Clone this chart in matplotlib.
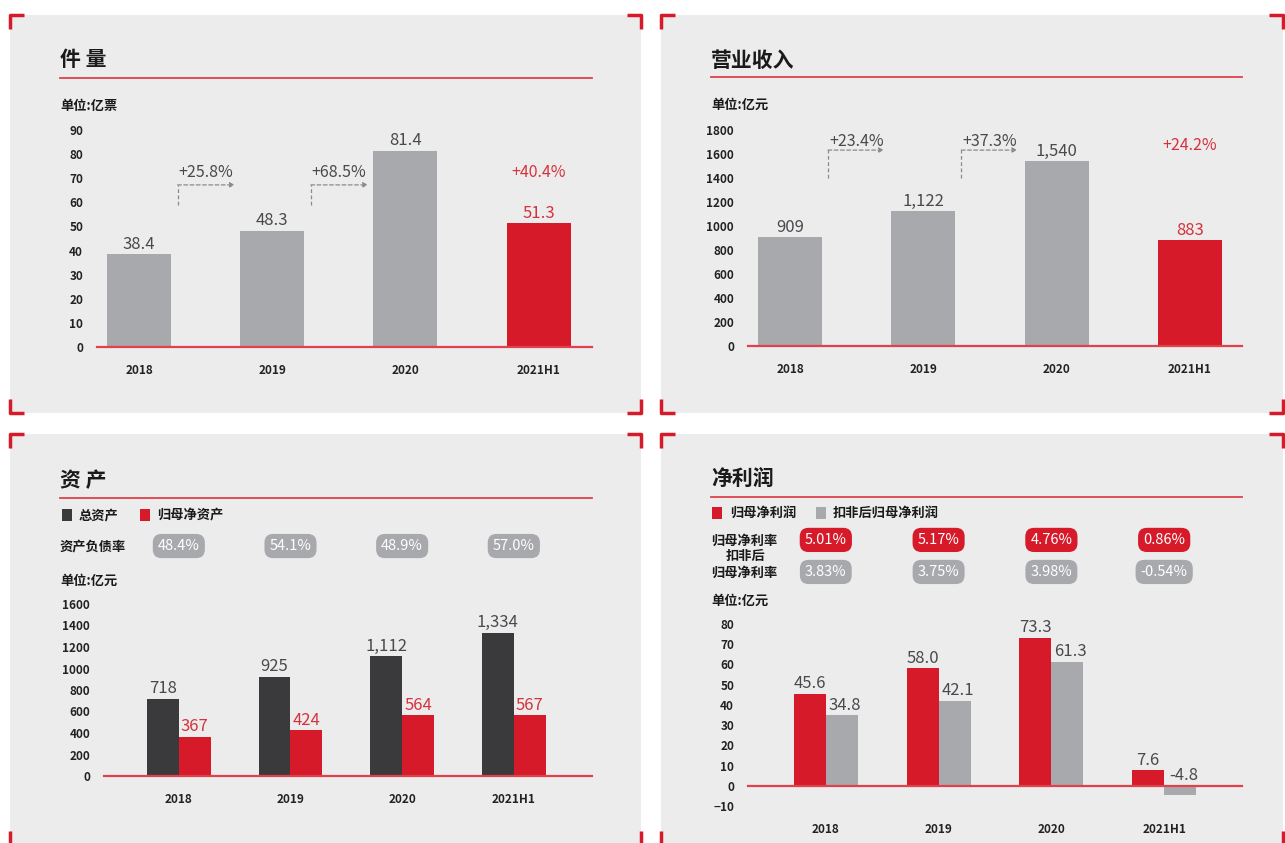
import matplotlib
matplotlib.use("Agg")
import matplotlib.pyplot as plt
import matplotlib.transforms as mtransforms
from matplotlib.patches import Rectangle
import numpy as np

plt.rcParams["font.family"] = ["Noto Sans CJK SC", "DejaVu Sans"]

# data
years = ["2018", "2019", "2020", "2021H1"]
volume = [38.4, 48.3, 81.4, 51.3]            # 件量, 亿票
volume_growth = ["+25.8%", "+68.5%"]
volume_h1_growth = "+40.4%"
revenue = [909, 1122, 1540, 883]             # 营业收入, 亿元
revenue_labels = ["909", "1,122", "1,540", "883"]
revenue_growth = ["+23.4%", "+37.3%"]
revenue_h1_growth = "+24.2%"
total_assets = [718, 925, 1112, 1334]        # 总资产
total_assets_labels = ["718", "925", "1,112", "1,334"]
net_assets = [367, 424, 564, 567]            # 归母净资产
debt_ratio = ["48.4%", "54.1%", "48.9%", "57.0%"]
net_profit = [45.6, 58.0, 73.3, 7.6]         # 归母净利润
net_profit_adj = [34.8, 42.1, 61.3, -4.8]    # 扣非后归母净利润
margin = ["5.01%", "5.17%", "4.76%", "0.86%"]
margin_adj = ["3.83%", "3.75%", "3.98%", "-0.54%"]

W, H = 1285, 843
RED = "#d71a2a"
RED_TXT = "#d4333e"
GRAY = "#a8a9ac"
DARK = "#3a3a3c"
BG = "#ececec"
TXT = "#4a4a4c"
LINE = "#e0414b"

fig = plt.figure(figsize=(W / 100, H / 100), dpi=100)
fig.patch.set_facecolor("white")

# overlay in pixel coordinates for panels / titles
bg = fig.add_axes([0, 0, 1, 1])
bg.set_xlim(0, W)
bg.set_ylim(H, 0)
bg.axis("off")


def panel(x0, y0, x1, y1, cut_bottom=False):
    bg.add_patch(Rectangle((x0, y0), x1 - x0, y1 - y0, color=BG, lw=0))
    arm = 14
    kw = dict(color=RED, lw=2.5, solid_capstyle="butt")
    bg.plot([x0, x0, x0 + arm], [y0 + arm, y0, y0], **kw)
    bg.plot([x1 - arm, x1, x1], [y0, y0, y0 + arm], **kw)
    if not cut_bottom:
        bg.plot([x0, x0, x0 + arm], [y1 - arm, y1, y1], **kw)
        bg.plot([x1 - arm, x1, x1], [y1, y1, y1 - arm], **kw)
    else:
        bg.plot([x0, x0], [y1 - 12, y1], **kw)
        bg.plot([x1, x1], [y1 - 12, y1], **kw)


panel(10, 15, 641, 413)
panel(661, 15, 1283, 413)
panel(10, 434, 641, 843, cut_bottom=True)
panel(661, 434, 1283, 843, cut_bottom=True)


def header(x, y, title, line_y, x1):
    bg.text(x, y, title, fontsize=15, fontweight="bold", color="#1a1a1a", va="center", ha="left")
    bg.plot([x, x1], [line_y, line_y], color=LINE, lw=1.3)


header(60, 60, "件 量", 78, 592)
header(711, 60, "营业收入", 77, 1242)
header(60, 481, "资 产", 498, 592)
header(711, 478, "净利润", 497, 1242)

lab = dict(fontsize=9.5, fontweight="bold", color="#1a1a1a", va="center", ha="left")
bg.text(60, 106, "单位:亿票", **lab)
bg.text(711, 105, "单位:亿元", **lab)
bg.text(60, 581, "单位:亿元", **lab)
bg.text(711, 601, "单位:亿元", **lab)
bg.text(60, 546, "资产负债率", **lab)
bg.text(711, 541, "归母净利率", **lab)
bg.text(746, 556, "扣非后", fontsize=9.5, fontweight="bold", color="#1a1a1a", va="center", ha="center")
bg.text(711, 573, "归母净利率", **lab)

# legends
bg.add_patch(Rectangle((62, 509), 10, 12, color=DARK, lw=0))
bg.text(79, 515, "总资产", **lab)
bg.add_patch(Rectangle((140, 509), 10, 12, color=RED, lw=0))
bg.text(157, 515, "归母净资产", **lab)
bg.add_patch(Rectangle((712, 507), 10, 12, color=RED, lw=0))
bg.text(730, 513, "归母净利润", **lab)
bg.add_patch(Rectangle((816, 507), 10, 12, color=GRAY, lw=0))
bg.text(833, 513, "扣非后归母净利润", **lab)


def make_ax(x0, y0, x1, y1, xlim, ylim, yticks):
    ax = fig.add_axes([x0 / W, 1 - y1 / H, (x1 - x0) / W, (y1 - y0) / H])
    ax.set_facecolor("none")
    for s in ax.spines.values():
        s.set_visible(False)
    ax.set_xlim(*xlim)
    ax.set_ylim(*ylim)
    ax.set_yticks(yticks)
    ax.set_xticks(range(len(years)))
    ax.set_xticklabels(years)
    ax.tick_params(length=0)
    ax.tick_params(axis="y", pad=10, labelsize=8.5)
    ax.tick_params(axis="x", pad=12, labelsize=8.5)
    for t in ax.get_yticklabels() + ax.get_xticklabels():
        t.set_fontweight("bold")
        t.set_color("#222222")
    ax.axhline(0, color=LINE, lw=1.6, zorder=3, clip_on=False)
    return ax


def growth_arrows(ax, labels, y_lo, y_hi, y_txt, x_a=0.29, x_b=0.72):
    tr = mtransforms.blended_transform_factory(ax.transData, ax.transAxes)
    for i, g in enumerate(labels):
        ax.plot([i + x_a, i + x_a], [y_lo, y_hi], transform=tr, color="#8a8a8a",
                lw=0.9, ls=(0, (3, 2)))
        ax.annotate("", xy=(i + x_b, y_hi), xytext=(i + x_a, y_hi),
                    xycoords=tr, textcoords=tr,
                    arrowprops=dict(arrowstyle="-|>", color="#8a8a8a", lw=0.9,
                                    ls=(0, (3, 2)), mutation_scale=7,
                                    shrinkA=0, shrinkB=0))
        ax.text(i + 0.5, y_txt, g, transform=tr, ha="center", va="center",
                fontsize=11.5, color=TXT)


def value_labels(ax, xs, vals, texts, colors, fs=12):
    for x, v, t, c in zip(xs, vals, texts, colors):
        ax.annotate(t, (x, max(v, 0)), xytext=(0, 1), textcoords="offset points",
                    ha="center", va="bottom", fontsize=fs, color=c, clip_on=False)


x = np.arange(len(years))

# 件量
ax1 = make_ax(97, 130, 592, 347, (-0.315, 3.4), (0, 90), range(0, 91, 10))
ax1.bar(x, volume, width=0.48, color=[GRAY, GRAY, GRAY, RED], zorder=2)
value_labels(ax1, x, volume, [f"{v:.1f}" for v in volume], [TXT, TXT, TXT, RED_TXT])
growth_arrows(ax1, volume_growth, 0.654, 0.747, 0.806)
ax1.text(3, 0.806, volume_h1_growth, transform=mtransforms.blended_transform_factory(
    ax1.transData, ax1.transAxes), ha="center", va="center", fontsize=11.5, color=RED_TXT)

# 营业收入
ax2 = make_ax(748, 130, 1242, 346, (-0.315, 3.39), (0, 1800), range(0, 1801, 200))
ax2.bar(x, revenue, width=0.48, color=[GRAY, GRAY, GRAY, RED], zorder=2)
value_labels(ax2, x, revenue, revenue_labels, [TXT, TXT, TXT, RED_TXT])
growth_arrows(ax2, revenue_growth, 0.778, 0.907, 0.949, x_a=0.285, x_b=0.705)
ax2.text(3, 0.926, revenue_h1_growth, transform=mtransforms.blended_transform_factory(
    ax2.transData, ax2.transAxes), ha="center", va="center", fontsize=11.5, color=RED_TXT)

# 资产
bw = 0.286
ax3 = make_ax(104, 604, 592, 776, (-0.67, 3.7), (0, 1600), range(0, 1601, 200))
ax3.bar(x - bw / 2, total_assets, width=bw, color=DARK, zorder=2)
ax3.bar(x + bw / 2, net_assets, width=bw, color=RED, zorder=2)
value_labels(ax3, x - bw / 2, total_assets, total_assets_labels, [TXT] * 4)
value_labels(ax3, x + bw / 2, net_assets, [str(v) for v in net_assets], [RED_TXT] * 4)
tr3 = mtransforms.blended_transform_factory(ax3.transData, ax3.transAxes)
for i, r in enumerate(debt_ratio):
    ax3.text(i, 1.337, r, transform=tr3, ha="center", va="center", fontsize=10.5,
             color="white", bbox=dict(boxstyle="round,pad=0.35,rounding_size=0.6",
                                      fc=GRAY, ec="none"))

# 净利润
bw = 0.284
ax4 = make_ax(748, 624, 1242, 806, (-0.69, 3.69), (-10, 80), range(-10, 81, 10))
ax4.bar(x - bw / 2, net_profit, width=bw, color=RED, zorder=2)
ax4.bar(x + bw / 2, net_profit_adj, width=bw, color=GRAY, zorder=2)
value_labels(ax4, x - bw / 2, net_profit, [f"{v:.1f}" for v in net_profit], [TXT] * 4)
value_labels(ax4, x + bw / 2 + 0.03, net_profit_adj, [f"{v:.1f}" for v in net_profit_adj], [TXT] * 4)
tr4 = mtransforms.blended_transform_factory(ax4.transData, ax4.transAxes)
for i, (m, ma) in enumerate(zip(margin, margin_adj)):
    ax4.text(i, 1.462, m, transform=tr4, ha="center", va="center", fontsize=10.5,
             color="white", bbox=dict(boxstyle="round,pad=0.35,rounding_size=0.6",
                                      fc=RED, ec="none"))
    ax4.text(i, 1.286, ma, transform=tr4, ha="center", va="center", fontsize=10.5,
             color="white", bbox=dict(boxstyle="round,pad=0.35,rounding_size=0.6",
                                      fc=GRAY, ec="none"))

fig.savefig("out.png", dpi=100)
